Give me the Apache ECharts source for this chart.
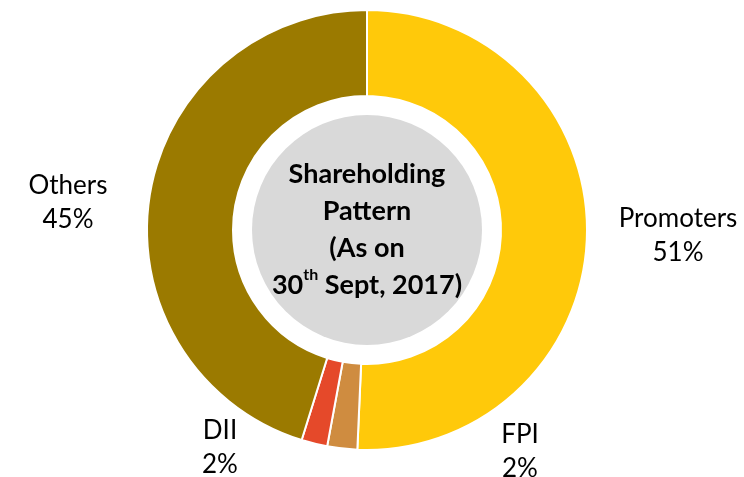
<!DOCTYPE html>
<html>
<head>
<meta charset="utf-8">
<script src="https://cdn.jsdelivr.net/npm/echarts@6/dist/echarts.min.js"></script>
<style>
  html, body { margin: 0; padding: 0; background: #fff; }
  #chart { width: 744px; height: 477px; }
</style>
</head>
<body>
<div id="chart"></div>
<script>
// shareholding split (percent)
const holders = ["Promoters", "FPI", "DII", "Others"];
const shares = [50.7, 2.2, 1.9, 45.2];
const colors = ["#FFC90A", "#CF8C40", "#E5492A", "#9B7A00"];
const centerLines = ["Shareholding", "Pattern", "(As on", "30", "th", " Sept, 2017)"];

const myChart = echarts.init(document.getElementById("chart"));

// label anchors, same order as holders
const labelPos = [[678, 236], [520, 452], [220, 448], [68, 203]];

const option = {
  animation: false,
  series: [
    {
      type: "pie",
      center: [367, 230],
      radius: [134, 220],
      startAngle: 90,
      clockwise: true,
      percentPrecision: 0,
      itemStyle: { borderColor: "#fff", borderWidth: 2 },
      label: {
        show: true,
        position: "outside",
        formatter: "{b}\n{d}%",
        fontFamily: "Lato",
        fontSize: 26,
        lineHeight: 34,
        color: "#000",
        align: "center",
        overflow: "none"
      },
      labelLine: { show: false },
      labelLayout: function (params) {
        const p = labelPos[params.dataIndex];
        return { x: p[0], y: p[1], align: "center", verticalAlign: "middle" };
      },
      emphasis: { disabled: true },
      data: holders.map((name, i) => ({
        name: name,
        value: shares[i],
        itemStyle: { color: colors[i] }
      }))
    },
    {
      type: "pie",
      center: [367, 230],
      radius: [0, 115],
      silent: true,
      itemStyle: { color: "#D9D9D9" },
      label: {
        show: true,
        position: "center",
        formatter:
          "{b|" + centerLines[0] + "}\n{b|" + centerLines[1] + "}\n{b|" + centerLines[2] +
          "}\n{b|" + centerLines[3] + "}{sup|" + centerLines[4] + "}{b|" + centerLines[5] + "}",
        rich: {
          b: { fontFamily: "Lato", fontWeight: "bold", fontSize: 27, lineHeight: 37, color: "#000" },
          sup: { fontFamily: "Lato", fontWeight: "bold", fontSize: 16, lineHeight: 37, color: "#000", verticalAlign: "top", padding: [0, 0, 0, 0] }
        }
      },
      labelLine: { show: false },
      data: [{ value: 1, name: "center" }]
    }
  ]
};
myChart.setOption(option);
window.onresize = function () {
  myChart.resize();
};
</script>
</body>
</html>
